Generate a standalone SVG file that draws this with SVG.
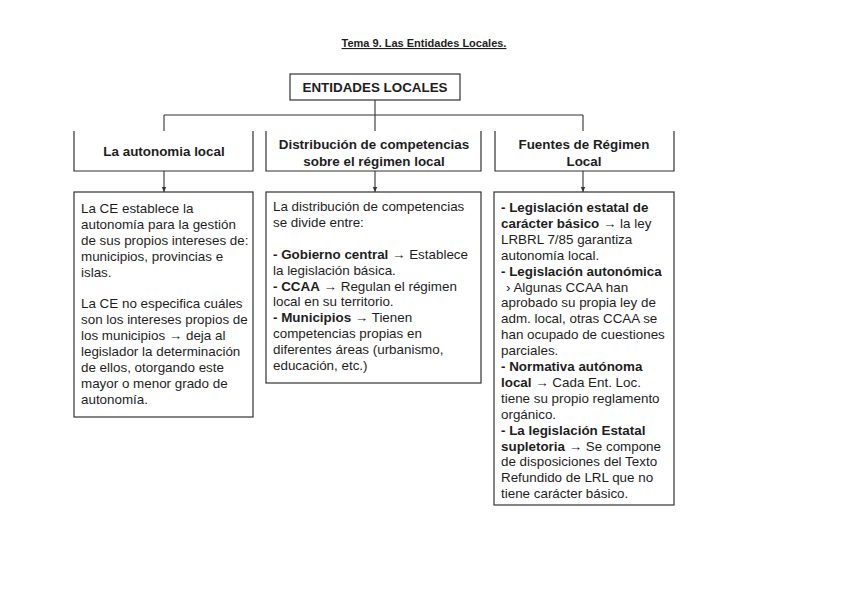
<svg xmlns="http://www.w3.org/2000/svg" width="848" height="600" viewBox="0 0 848 600">
<style>
.bg{fill:#ffffff}
.box{fill:#ffffff;stroke:#333;stroke-width:1.2}
.hdr{fill:none;stroke:#333;stroke-width:1.2}
.ln{fill:none;stroke:#333;stroke-width:1.1}
text{font-family:"Liberation Sans",Arial,sans-serif;fill:#1e1e1e}
.t{font-size:13.4px}
.h{font-size:13.4px;font-weight:bold;text-anchor:middle}
.b{font-weight:bold}
.title{font-size:11px;font-weight:bold;text-anchor:middle;text-decoration:underline}
</style>
<defs>
<marker id="arr" markerWidth="6" markerHeight="6" refX="5" refY="3" orient="auto" markerUnits="userSpaceOnUse">
<path d="M0,0.8 L5,3 L0,5.2 Z" fill="#333"/>
</marker>
</defs>
<rect class="bg" x="0" y="0" width="848" height="600"/>
<text class="title" x="424" y="47">Tema 9. Las Entidades Locales.</text>

<g id="connectors">
<line class="ln" x1="375" y1="100" x2="375" y2="131"/>
<line class="ln" x1="164" y1="115" x2="583" y2="115"/>
<line class="ln" x1="164" y1="115" x2="164" y2="131"/>
<line class="ln" x1="583" y1="115" x2="583" y2="131"/>
<line class="ln" x1="164" y1="171" x2="164" y2="192" marker-end="url(#arr)"/>
<line class="ln" x1="375" y1="171" x2="375" y2="192" marker-end="url(#arr)"/>
<line class="ln" x1="583" y1="171" x2="583" y2="192" marker-end="url(#arr)"/>
</g>

<g id="entidades">
<rect class="box" x="290" y="74" width="170" height="26"/>
<text class="h" x="375" y="92">ENTIDADES LOCALES</text>
</g>

<g id="autonomia-header">
<path class="hdr" d="M74,131 V171 H253 V131"/>
<text class="h" x="164" y="156">La autonomia local</text>
</g>

<g id="distribucion-header">
<path class="hdr" d="M266,131 V171 H481 V131"/>
<text class="h" x="374" y="149">Distribución de competencias</text>
<text class="h" x="374" y="166">sobre el régimen local</text>
</g>

<g id="fuentes-header">
<path class="hdr" d="M495,131 V171 H674 V131"/>
<text class="h" x="584" y="149">Fuentes de Régimen</text>
<text class="h" x="584" y="166">Local</text>
</g>

<g id="autonomia-detail">
<rect class="box" x="74" y="192" width="179" height="225"/>
<text class="t" x="81">
<tspan x="81" y="213">La CE establece la</tspan>
<tspan x="81" y="228.9">autonomía para la gestión</tspan>
<tspan x="81" y="244.8">de sus propios intereses de:</tspan>
<tspan x="81" y="260.7">municipios, provincias e</tspan>
<tspan x="81" y="276.6">islas.</tspan>
<tspan x="81" y="308.4">La CE no especifica cuáles</tspan>
<tspan x="81" y="324.3">son los intereses propios de</tspan>
<tspan x="81" y="340.2">los municipios → deja al</tspan>
<tspan x="81" y="356.1">legislador la determinación</tspan>
<tspan x="81" y="372">de ellos, otorgando este</tspan>
<tspan x="81" y="387.9">mayor o menor grado de</tspan>
<tspan x="81" y="403.8">autonomía.</tspan>
</text>
</g>

<g id="distribucion-detail">
<rect class="box" x="266" y="192" width="215" height="191"/>
<text class="t" x="273">
<tspan x="273" y="211">La distribución de competencias</tspan>
<tspan x="273" y="226.9">se divide entre:</tspan>
<tspan x="273" y="258.7"><tspan class="b">- Gobierno central</tspan> → Establece</tspan>
<tspan x="273" y="274.6">la legislación básica.</tspan>
<tspan x="273" y="290.5"><tspan class="b">- CCAA</tspan> → Regulan el régimen</tspan>
<tspan x="273" y="306.4">local en su territorio.</tspan>
<tspan x="273" y="322.3"><tspan class="b">- Municipios</tspan> → Tienen</tspan>
<tspan x="273" y="338.2">competencias propias en</tspan>
<tspan x="273" y="354.1">diferentes áreas (urbanismo,</tspan>
<tspan x="273" y="370">educación, etc.)</tspan>
</text>
</g>

<g id="fuentes-detail">
<rect class="box" x="494" y="192" width="180" height="313"/>
<text class="t" x="501">
<tspan x="501" y="212" class="b">- Legislación estatal de</tspan>
<tspan x="501" y="227.9"><tspan class="b">carácter básico</tspan> → la ley</tspan>
<tspan x="501" y="243.8">LRBRL 7/85 garantiza</tspan>
<tspan x="501" y="259.7">autonomía local.</tspan>
<tspan x="501" y="275.6" class="b">- Legislación autonómica</tspan>
<tspan x="506" y="291.5">› Algunas CCAA han</tspan>
<tspan x="501" y="307.4">aprobado su propia ley de</tspan>
<tspan x="501" y="323.3">adm. local, otras CCAA se</tspan>
<tspan x="501" y="339.2">han ocupado de cuestiones</tspan>
<tspan x="501" y="355.1">parciales.</tspan>
<tspan x="501" y="371" class="b">- Normativa autónoma</tspan>
<tspan x="501" y="386.9"><tspan class="b">local</tspan> → Cada Ent. Loc.</tspan>
<tspan x="501" y="402.8">tiene su propio reglamento</tspan>
<tspan x="501" y="418.7">orgánico.</tspan>
<tspan x="501" y="434.6" class="b">- La legislación Estatal</tspan>
<tspan x="501" y="450.5"><tspan class="b">supletoria</tspan> → Se compone</tspan>
<tspan x="501" y="466.4">de disposiciones del Texto</tspan>
<tspan x="501" y="482.3">Refundido de LRL que no</tspan>
<tspan x="501" y="498.2">tiene carácter básico.</tspan>
</text>
</g>
</svg>
